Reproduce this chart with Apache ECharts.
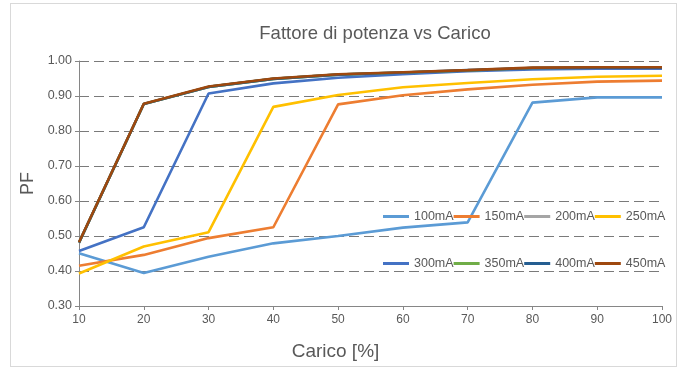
<!DOCTYPE html>
<html><head><meta charset="utf-8">
<script src="https://cdn.jsdelivr.net/npm/echarts@6/dist/echarts.min.js"></script>
<style>html,body{margin:0;padding:0;background:#fff}#wrap{position:absolute;left:10px;top:3px;width:667px;height:364px;border:1px solid #d9d9d9;box-sizing:border-box}#c{position:absolute;left:0;top:0;width:686px;height:369px}</style>
</head><body><div id="wrap"></div><div id="c"></div>
<script>
const categories = [10,20,30,40,50,60,70,80,90,100];
const seriesNames = ['100mA','150mA','200mA','250mA','300mA','350mA','400mA','450mA'];
const s100 = [0.451,0.394,0.441,0.479,0.500,0.524,0.539,0.881,0.896,0.896];
const s150 = [0.415,0.446,0.494,0.525,0.876,0.902,0.919,0.932,0.941,0.944];
const s200 = [0.481,0.877,0.926,0.949,0.961,0.967,0.973,0.980,0.981,0.981];
const s250 = [0.393,0.470,0.511,0.869,0.903,0.925,0.937,0.948,0.955,0.958];
const s300 = [0.457,0.525,0.907,0.936,0.952,0.962,0.971,0.976,0.978,0.978];
const s350 = [0.481,0.877,0.926,0.949,0.961,0.967,0.973,0.980,0.981,0.981];
const s400 = [0.481,0.877,0.926,0.949,0.961,0.967,0.974,0.980,0.981,0.981];
const s450 = [0.482,0.878,0.927,0.950,0.962,0.968,0.974,0.981,0.982,0.982];
const yTicks = [0.30,0.40,0.50,0.60,0.70,0.80,0.90,1.00];
const colors = ['#5B9BD5','#ED7D31','#A5A5A5','#FFC000','#4472C4','#70AD47','#255E91','#9E480E'];
const allData = [s100,s150,s200,s250,s300,s350,s400,s450];

const chart = echarts.init(document.getElementById('c'));
const txt = '#595959';
const font = 'Arial, "Liberation Sans", sans-serif';
const series = seriesNames.map((n,i)=>({
  name:n, type:'line', symbol:'none', smooth:false,
  lineStyle:{width:2.6,color:colors[i]}, itemStyle:{color:colors[i]},
  data: categories.map((x,j)=>[x,allData[i][j]])
}));
const legendCommon = {
  orient:'horizontal', itemWidth:26, itemHeight:3, itemGap:0, padding:0,
  textStyle:{color:txt,fontSize:12.5,fontFamily:font}, icon:'rect'
};
chart.setOption({
  animation:false,
  color:colors,
  title:{text:'Fattore di potenza vs Carico', left:370, textAlign:'center', top:19,
    textStyle:{color:txt,fontSize:18.5,fontWeight:'normal',fontFamily:font}},
  legend:[
    Object.assign({data:seriesNames.slice(0,4), left:383, top:210}, legendCommon),
    Object.assign({data:seriesNames.slice(4), left:383, top:257}, legendCommon)
  ],
  grid:{left:79,right:24,top:61,bottom:63},
  xAxis:{type:'value', min:10, max:100, interval:10,
    name:'Carico [%]', nameLocation:'middle', nameGap:36,
    nameTextStyle:{color:txt,fontSize:19,fontFamily:font,padding:[0,70,0,0]},
    axisLine:{lineStyle:{color:'#868686'}},
    axisTick:{show:true,length:4,lineStyle:{color:'#868686'}},
    axisLabel:{color:txt,fontSize:12,fontFamily:font,margin:8},
    splitLine:{show:false}},
  yAxis:{type:'value', min:yTicks[0], max:yTicks[yTicks.length-1], interval:0.1,
    name:'PF', nameLocation:'middle', nameGap:38, nameRotate:90,
    nameTextStyle:{color:txt,fontSize:18,fontFamily:font},
    axisLine:{show:true,lineStyle:{color:'#868686'}},
    axisTick:{show:true,length:4,lineStyle:{color:'#868686'}},
    axisLabel:{color:txt,fontSize:12.5,fontFamily:font,margin:7,formatter:v=>v.toFixed(2)},
    splitLine:{show:true,lineStyle:{color:'#7a7a7a',type:[10,5],width:1}}},
  series:series
});
</script></body></html>
